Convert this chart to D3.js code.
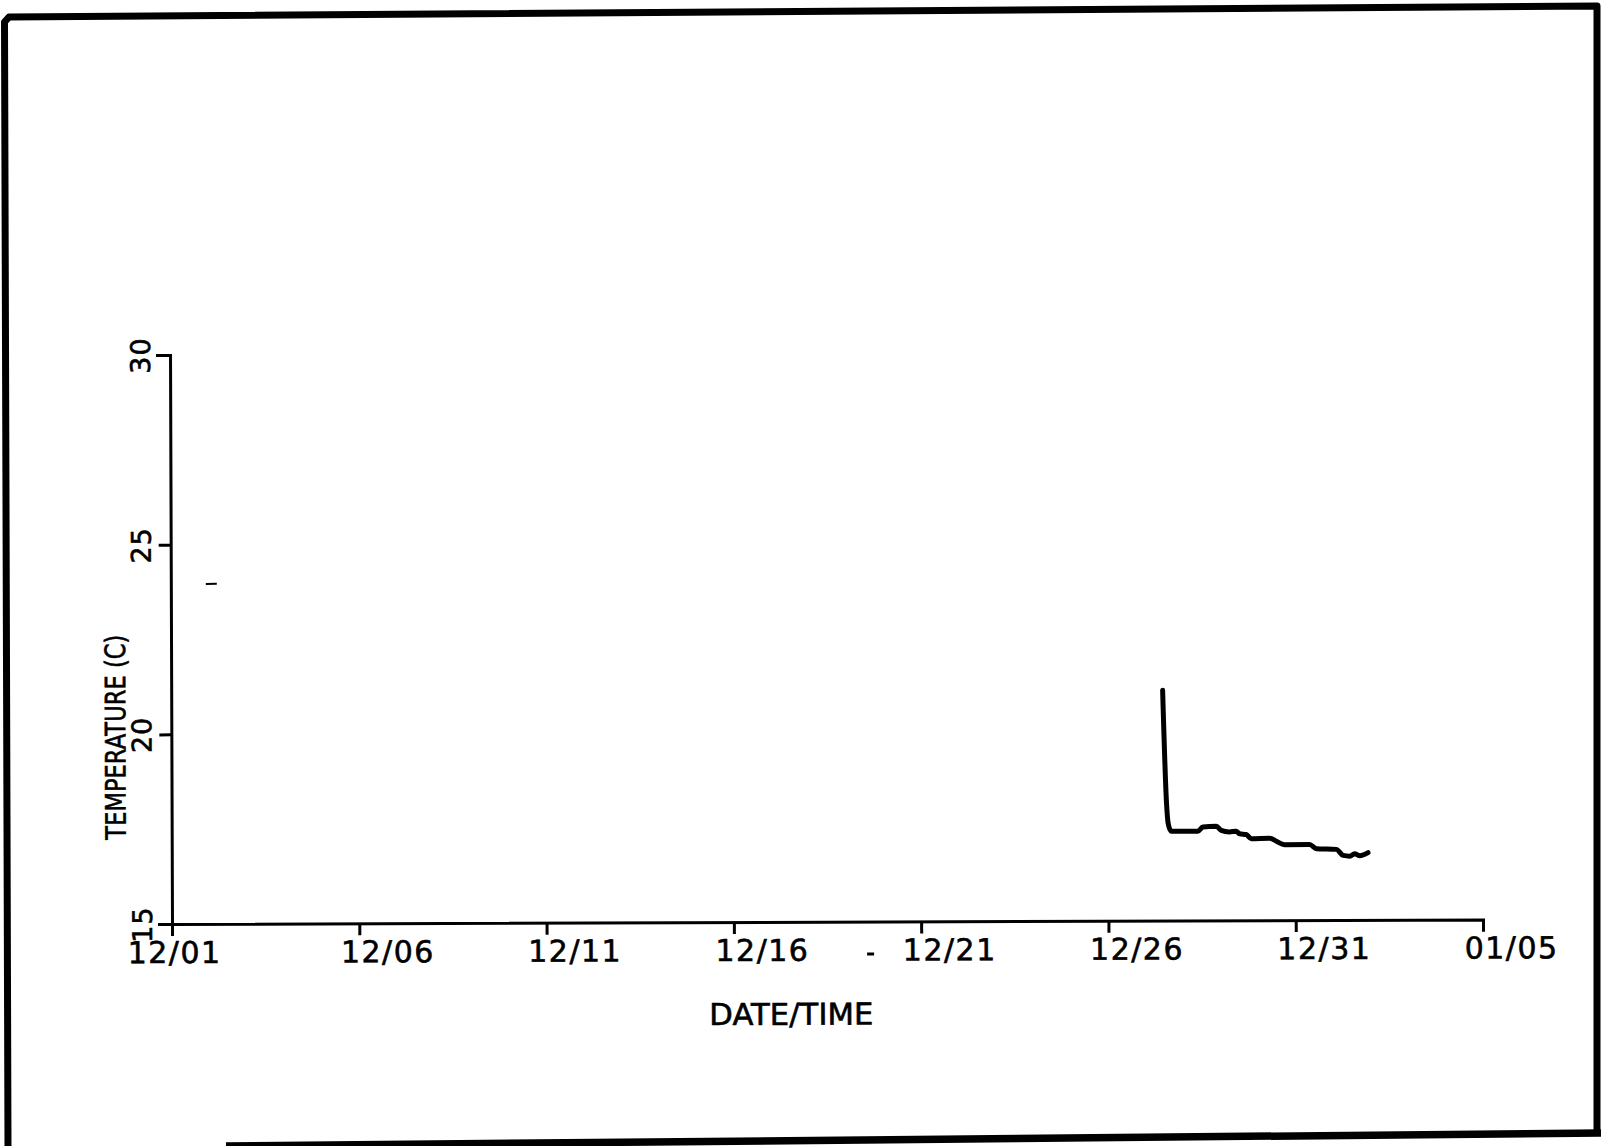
<!DOCTYPE html>
<html>
<head>
<meta charset="utf-8">
<script src="https://cdn.jsdelivr.net/npm/d3@7"></script>
<style>
    body { margin: 0; background: #fff; }
    svg { display: block; }
    text { font-family: "DejaVu Sans", sans-serif; fill: #000; stroke: #000; stroke-width: 0.6px; }
</style>
</head>
<body>
<div id="chart"></div>
<script>
// Axis ticks
const tickDates = ["1987-12-01", "1987-12-06", "1987-12-11", "1987-12-16", "1987-12-21", "1987-12-26", "1987-12-31", "1988-01-05"];
const tempTicks = [15, 20, 25, 30];

// Temperature record
const readingTimes = [
    "1987-12-27 11:15", "1987-12-27 13:30", "1987-12-27 14:30", "1987-12-27 16:30",
    "1987-12-28 09:30", "1987-12-28 12:45", "1987-12-28 21:20", "1987-12-29 00:30",
    "1987-12-29 05:45", "1987-12-29 10:00", "1987-12-29 12:15", "1987-12-29 16:30",
    "1987-12-29 19:40", "1987-12-30 07:30", "1987-12-30 11:45", "1987-12-30 17:00",
    "1987-12-31 09:00", "1987-12-31 13:30", "1988-01-01 02:10", "1988-01-01 06:30",
    "1988-01-01 10:50", "1988-01-01 13:50", "1988-01-01 17:15", "1988-01-01 22:30"
];
const readingTemps = [
    21.07, 18.08, 17.56, 17.35,
    17.35, 17.46, 17.48, 17.37,
    17.33, 17.35, 17.28, 17.26,
    17.15, 17.16, 17.08, 16.99,
    16.99, 16.88, 16.86, 16.70,
    16.68, 16.74, 16.69, 16.77
];

const width = 1601, height = 1146;
const parseDay = d3.timeParse("%Y-%m-%d");
const parseTime = d3.timeParse("%Y-%m-%d %H:%M");
const ticks = tickDates.map(parseDay);
const data = readingTimes.map((t, i) => ({ time: parseTime(t), temp: readingTemps[i] }));

const svg = d3.select("#chart")
    .append("svg")
    .attr("width", width)
    .attr("height", height);

// scanned page border
const border = d3.line();
svg.append("path")
    .attr("d", border([[8, 1146], [4.5, 22], [9, 17], [1597, 6], [1597, 1133]]))
    .attr("fill", "none")
    .attr("stroke", "#000")
    .attr("stroke-width", 7)
    .attr("stroke-linejoin", "round");
svg.append("path")
    .attr("d", border([[226, 1146], [1601, 1133]]))
    .attr("fill", "none")
    .attr("stroke", "#000")
    .attr("stroke-width", 7.5);

// the page was scanned slightly skewed
const g = svg.append("g")
    .attr("transform", "rotate(-0.2,172,924)");

const x = d3.scaleTime()
    .domain([ticks[0], ticks[ticks.length - 1]])
    .range([172, 1483]);

const y = d3.scaleLinear()
    .domain([15, 30])
    .range([924, 355]);

const xAxis = g.append("g")
    .attr("transform", "translate(0,924)")
    .call(d3.axisBottom(x)
        .tickValues(ticks)
        .tickFormat(d3.timeFormat("%m/%d"))
        .tickSize(12)
        .tickSizeOuter(12));

xAxis.selectAll("text")
    .attr("y", 39)
    .attr("dy", null)
    .attr("x", (d, i) => i === 0 ? 2 : 28)
    .attr("text-anchor", "middle")
    .style("font-size", "30px")
    .style("font-family", "'DejaVu Sans', sans-serif")
    .style("letter-spacing", "1.5px");

const yAxis = g.append("g")
    .attr("transform", "translate(172,0)")
    .call(d3.axisLeft(y)
        .tickValues(tempTicks)
        .tickSize(12)
        .tickSizeOuter(14));

yAxis.selectAll("text")
    .attr("transform", "rotate(-90)")
    .attr("x", 0)
    .attr("y", -20)
    .attr("dy", null)
    .attr("text-anchor", "middle")
    .style("font-size", "27px")
    .style("font-family", "'DejaVu Sans', sans-serif")
    .style("letter-spacing", "1px");

g.selectAll(".domain, .tick line")
    .attr("stroke", "#000")
    .attr("stroke-width", 3);

// axis titles
g.append("text")
    .attr("x", 791)
    .attr("y", 1027)
    .attr("text-anchor", "middle")
    .attr("textLength", 164)
    .attr("lengthAdjust", "spacingAndGlyphs")
    .style("font-size", "30px")
    .text("DATE/TIME");

g.append("text")
    .attr("transform", "translate(126,737) rotate(-90)")
    .attr("text-anchor", "middle")
    .attr("textLength", 205)
    .attr("lengthAdjust", "spacingAndGlyphs")
    .style("font-size", "28px")
    .text("TEMPERATURE (C)");

// small specks on the scan
g.append("rect").attr("x", 867).attr("y", 955).attr("width", 7).attr("height", 3);
g.append("rect").attr("x", 207).attr("y", 583).attr("width", 11).attr("height", 2);

// temperature trace
const line = d3.line()
    .x(d => x(d.time))
    .y(d => y(d.temp))
    .curve(d3.curveMonotoneX);

g.append("path")
    .datum(data)
    .attr("d", line)
    .attr("fill", "none")
    .attr("stroke", "#000")
    .attr("stroke-width", 5)
    .attr("stroke-linejoin", "round")
    .attr("stroke-linecap", "round");
</script>
</body>
</html>
